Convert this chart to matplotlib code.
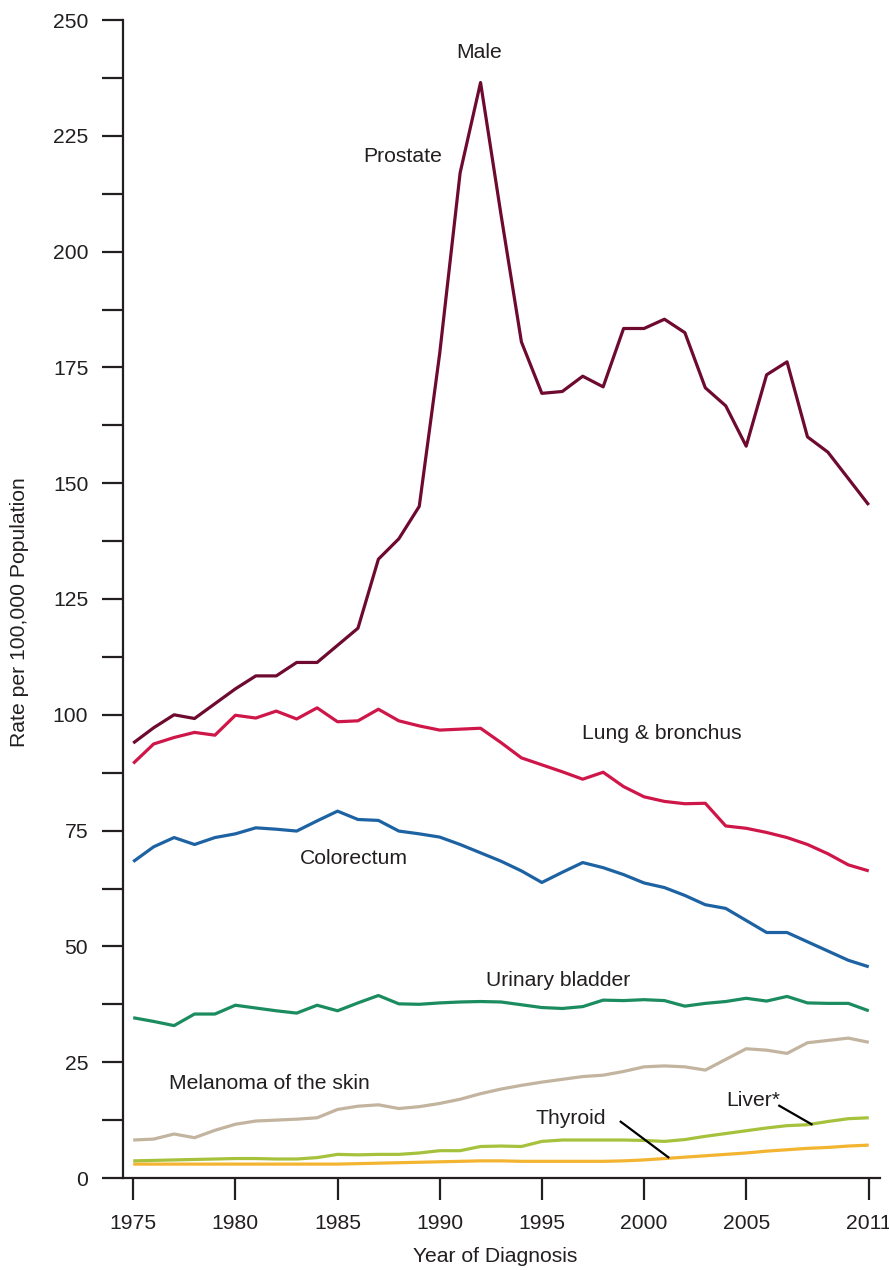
import matplotlib
matplotlib.use("Agg")
import matplotlib.pyplot as plt
from matplotlib.ticker import MultipleLocator

plt.rcParams['font.family'] = ['Liberation Sans', 'DejaVu Sans']

years = list(range(1975, 2012))

prostate = [93.9, 97.2, 100.0, 99.2, 102.4, 105.6, 108.4, 108.4, 111.3, 111.3,
            115.0, 118.7, 133.6, 138.0, 145.0, 178.0, 217.0, 236.5, 208.0, 180.5,
            169.4, 169.8, 173.1, 170.8, 183.4, 183.4, 185.4, 182.5, 170.6, 166.7,
            158.0, 173.4, 176.2, 160.0, 156.7, 151.0, 145.3]

lung = [89.5, 93.7, 95.1, 96.2, 95.6, 99.9, 99.3, 100.8, 99.1, 101.5,
        98.5, 98.7, 101.2, 98.7, 97.6, 96.7, 96.9, 97.1, 94.0, 90.7,
        89.2, 87.7, 86.1, 87.6, 84.5, 82.3, 81.3, 80.8, 80.9, 76.0,
        75.5, 74.6, 73.5, 72.0, 70.0, 67.6, 66.3]

colorectum = [68.3, 71.5, 73.5, 72.0, 73.5, 74.3, 75.6, 75.3, 74.9, 77.1,
              79.2, 77.4, 77.2, 74.9, 74.3, 73.6, 72.0, 70.2, 68.4, 66.3,
              63.8, 66.0, 68.1, 67.0, 65.5, 63.7, 62.7, 61.0, 59.0, 58.2,
              55.6, 53.0, 53.0, 51.0, 49.0, 47.0, 45.6]

bladder = [34.6, 33.8, 32.9, 35.4, 35.4, 37.3, 36.7, 36.1, 35.6, 37.3,
           36.1, 37.8, 39.4, 37.6, 37.5, 37.8, 38.0, 38.1, 38.0, 37.4,
           36.8, 36.6, 37.0, 38.4, 38.3, 38.5, 38.3, 37.1, 37.7, 38.1,
           38.8, 38.2, 39.2, 37.8, 37.7, 37.7, 36.1]

melanoma = [8.2, 8.4, 9.5, 8.7, 10.3, 11.6, 12.3, 12.5, 12.7, 13.0,
            14.8, 15.5, 15.8, 15.0, 15.4, 16.1, 17.0, 18.2, 19.2, 20.0,
            20.7, 21.3, 21.9, 22.2, 23.0, 24.0, 24.2, 24.0, 23.3, 25.6,
            27.9, 27.6, 26.9, 29.2, 29.7, 30.2, 29.3]

liver = [3.7, 3.8, 3.9, 4.0, 4.1, 4.2, 4.2, 4.1, 4.1, 4.4,
         5.1, 5.0, 5.1, 5.1, 5.4, 5.9, 5.9, 6.8, 6.9, 6.8,
         7.9, 8.2, 8.2, 8.2, 8.2, 8.1, 7.9, 8.3, 9.0, 9.6,
         10.2, 10.8, 11.3, 11.5, 12.2, 12.8, 13.0]

thyroid = [3.0, 3.0, 3.0, 3.0, 3.0, 3.0, 3.0, 3.0, 3.0, 3.0,
           3.0, 3.1, 3.2, 3.3, 3.4, 3.5, 3.6, 3.7, 3.7, 3.6,
           3.6, 3.6, 3.6, 3.6, 3.7, 3.9, 4.2, 4.5, 4.8, 5.1,
           5.4, 5.8, 6.1, 6.4, 6.6, 6.9, 7.1]

x_tick_years = [1975, 1980, 1985, 1990, 1995, 2000, 2005, 2011]

series = [
    (thyroid, '#f3b431'),
    (liver, '#a6c23c'),
    (melanoma, '#c2b49f'),
    (bladder, '#1b8c5f'),
    (colorectum, '#1d62a2'),
    (lung, '#cf1649'),
    (prostate, '#6e0a30'),
]

ink = '#231f20'
fs = 15.2

fig = plt.figure(figsize=(8.89, 12.7), dpi=100)
ax = fig.add_axes([123 / 889, 1 - 1178 / 1270, (880 - 123) / 889, (1178 - 20) / 1270])

for values, color in series:
    ax.plot(years, values, color=color, lw=2.3, solid_joinstyle='round',
            solid_capstyle='butt', zorder=3)

ax.set_xlim(1974.5, 2011.55)
ax.set_ylim(0, 250)

for side in ('top', 'right'):
    ax.spines[side].set_visible(False)
for side in ('left', 'bottom'):
    ax.spines[side].set_linewidth(1.6)
    ax.spines[side].set_color(ink)

ax.yaxis.set_major_locator(MultipleLocator(25))
ax.yaxis.set_minor_locator(MultipleLocator(12.5))
ax.set_xticks(x_tick_years)
ax.set_xticklabels([str(y) for y in x_tick_years])

ax.tick_params(axis='y', which='both', direction='out', length=15, width=1.6,
               color=ink, labelcolor=ink, labelsize=fs, pad=10)
ax.tick_params(axis='x', which='both', direction='out', length=16, width=1.6,
               color=ink, labelcolor=ink, labelsize=fs, pad=10)
fig.canvas.draw()
ax.yaxis.get_major_ticks()[0].tick1line.set_visible(False)

ax.set_xlabel('Year of Diagnosis', fontsize=fs, color=ink)
ax.xaxis.set_label_coords((495 - 123) / (880 - 123), -(1257 - 1178) / (1178 - 20))
ax.set_ylabel('Rate per 100,000 Population', fontsize=fs, color=ink)
ax.yaxis.set_label_coords(-(123 - 20) / (880 - 123), (1178 - 612) / (1178 - 20))
ax.yaxis.label.set_va('center')
ax.xaxis.label.set_va('center')

labels = [
    ('Male', 1991.92, 242.9),
    ('Prostate', 1988.18, 220.6),
    ('Lung & bronchus', 2000.88, 95.9),
    ('Colorectum', 1985.81, 69.0),
    ('Urinary bladder', 1995.8, 42.7),
    ('Melanoma of the skin', 1981.67, 20.3),
    ('Thyroid', 1996.42, 12.95),
    ('Liver*', 2005.36, 16.8),
]
for text, x, y in labels:
    ax.text(x, y, text, fontsize=fs, color=ink, ha='center', va='center', zorder=5)

# leader lines tying the small-series labels to their curves
ax.plot([1998.86, 2001.19], [12.15, 4.47], color='black', lw=1.6, zorder=4)
ax.plot([2006.62, 2008.2], [15.6, 11.6], color='black', lw=1.6, zorder=4)

fig.savefig('out.png', dpi=100)
